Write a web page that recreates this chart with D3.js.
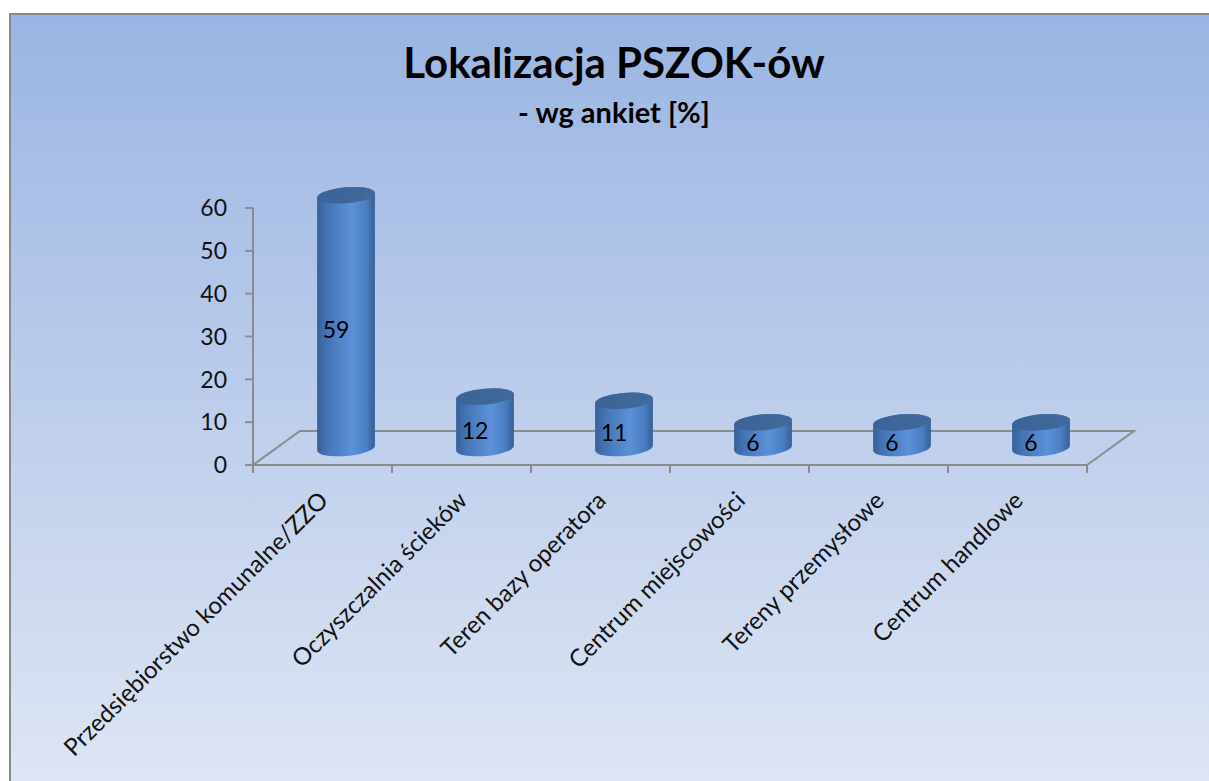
<!DOCTYPE html>
<html><head><meta charset="utf-8">
<script src="https://cdn.jsdelivr.net/npm/d3@7"></script>
<style>body{margin:0;background:#fff;overflow:hidden}</style>
</head><body>
<svg id="c" width="1209" height="781"></svg>
<script>
const categories = ["Przedsiębiorstwo komunalne/ZZO","Oczyszczalnia ścieków","Teren bazy operatora","Centrum miejscowości","Tereny przemysłowe","Centrum handlowe"];
const values = [59,12,11,6,6,6];
const yTicks = [0,10,20,30,40,50,60];
const title = "Lokalizacja PSZOK-ów";
const subtitle = "- wg ankiet [%]";

const svg = d3.select("#c");
const font = "Lato, 'Open Sans', sans-serif";
const defs = svg.append("defs");
const bg = defs.append("linearGradient").attr("id","bg").attr("x1",0).attr("y1",0).attr("x2",0).attr("y2",1);
bg.append("stop").attr("offset",0).attr("stop-color","#9ab5e3");
bg.append("stop").attr("offset",1).attr("stop-color","#dfe6f4");
const bar = defs.append("linearGradient").attr("id","bar").attr("x1",0).attr("y1",0).attr("x2",1).attr("y2",0);
[[0,"#37609a"],[0.18,"#4575b8"],[0.6,"#5b91d8"],[0.85,"#4a7ec2"],[1,"#375f98"]].forEach(s=>bar.append("stop").attr("offset",s[0]).attr("stop-color",s[1]));
const topG = defs.append("linearGradient").attr("id","top").attr("x1",0).attr("y1",0).attr("x2",1).attr("y2",0);
[[0,"#3c6397"],[0.5,"#3e6699"],[1,"#43699c"]].forEach(s=>topG.append("stop").attr("offset",s[0]).attr("stop-color",s[1]));

svg.append("rect").attr("x",10).attr("y",14).attr("width",1215).attr("height",780)
  .attr("fill","url(#bg)").attr("stroke","#8a8a8a").attr("stroke-width",2);

svg.append("text").attr("x",614).attr("y",78).attr("text-anchor","middle")
  .attr("font-family",font).attr("font-weight","bold").attr("font-size",42).text(title);
svg.append("text").attr("x",614).attr("y",123).attr("text-anchor","middle")
  .attr("font-family",font).attr("font-weight","bold").attr("font-size",29).text(subtitle);

const x = d3.scaleBand().domain(categories).range([253,1087]).padding(0);
const y = d3.scaleLinear().domain([0,60]).range([465,208]);
const DX = 47, DY = -34;
const grey = "#8c8c8c";

const g = svg.append("g");
g.append("path").attr("fill","none").attr("stroke",grey).attr("stroke-width",2)
  .attr("d",`M${x.range()[0]},${y(0)} L${x.range()[0]+DX},${y(0)+DY} L${x.range()[1]+DX},${y(0)+DY} L${x.range()[1]},${y(0)} Z`);
g.append("line").attr("x1",253).attr("x2",253).attr("y1",y(60)).attr("y2",y(0)).attr("stroke",grey).attr("stroke-width",2);
yTicks.forEach(t=>{
  g.append("line").attr("x1",245).attr("x2",253).attr("y1",y(t)).attr("y2",y(t)).attr("stroke",grey).attr("stroke-width",2);
  g.append("text").attr("x",227).attr("y",y(t)).attr("dy","0.36em").attr("text-anchor","end")
    .attr("font-family",font).attr("font-size",23).attr("fill","#111").text(t);
});
categories.concat([null]).forEach((c,i)=>{
  const xx = c===null ? x.range()[1] : x(c);
  g.append("line").attr("x1",xx).attr("x2",xx).attr("y1",y(0)).attr("y2",y(0)+8).attr("stroke",grey).attr("stroke-width",2);
});
categories.forEach(c=>{
  const cx = x(c)+x.bandwidth()/2;
  g.append("text").attr("text-anchor","end").attr("font-family",font).attr("font-size",24).attr("fill","#111")
    .attr("transform",`translate(${cx+7},${502}) rotate(-45)`).text(c);
});

const rx = 29, ry = 8, phi = -5*Math.PI/180;
const bw = svg.append("g");
categories.forEach((c,i)=>{
  const cx = x(c)+x.bandwidth()/2 + DX/2;
  const yb = y(0)+DY/2, yt = y(values[i])+DY/2;
  const ex = rx*Math.cos(phi), ey = rx*Math.sin(phi);
  const rot = phi*180/Math.PI;
  bw.append("path").attr("fill","url(#bar)")
    .attr("d",`M${cx-ex},${yt-ey} L${cx-ex},${yb-ey} A${rx},${ry} ${rot} 0 0 ${cx+ex},${yb+ey} L${cx+ex},${yt+ey} A${rx},${ry} ${rot} 0 0 ${cx-ex},${yt-ey} Z`);
  bw.append("ellipse").attr("cx",cx).attr("cy",yt).attr("rx",rx).attr("ry",ry)
    .attr("transform",`rotate(${rot},${cx},${yt})`).attr("fill","url(#top)");
  bw.append("text").attr("x",cx-10).attr("y",(yt+yb)/2+8).attr("dy","0.36em").attr("text-anchor","middle")
    .attr("font-family",font).attr("font-size",23).attr("fill","#000").text(values[i]);
});
</script>
</body></html>
